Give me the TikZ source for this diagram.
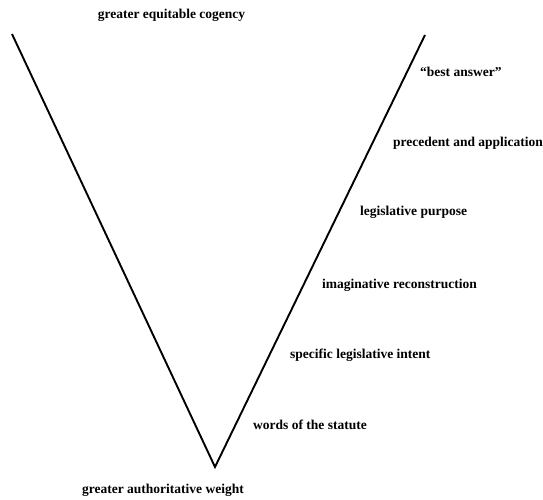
\documentclass[tikz,border=0pt]{standalone}
\usepackage{fontspec}
\setmainfont{Liberation Serif}
\usepackage{tikz}

\tikzset{
  vline/.style={line width=1.9pt,line join=miter},
  lbl/.style={inner sep=0pt,font=\fontsize{13.5}{15}\selectfont\bfseries},
  rung/.style={lbl,anchor=west}
}

\begin{document}
\begin{tikzpicture}[x=1pt,y=1pt]
\useasboundingbox (0,0) rectangle (543,499);

\coordinate (lt) at (12,465);
\coordinate (bot) at (215,32);
\coordinate (rt) at (425,464);
\draw [vline] (lt) -- (bot) -- (rt);

\node [lbl] (cogency) at (171.5,484) {greater equitable cogency};
\node [lbl] (weight) at (163,9) {greater authoritative weight};

\node [rung] (best) at (420,427) {“best answer”};
\node [rung] (precedent) at (393,356) {precedent and application};
\node [rung] (purpose) at (360,287) {legislative purpose};
\node [rung] (reconstr) at (322,214) {imaginative reconstruction};
\node [rung] (intent) at (290,144) {specific legislative intent};
\node [rung] (words) at (253,74) {words of the statute};

\end{tikzpicture}
\end{document}
